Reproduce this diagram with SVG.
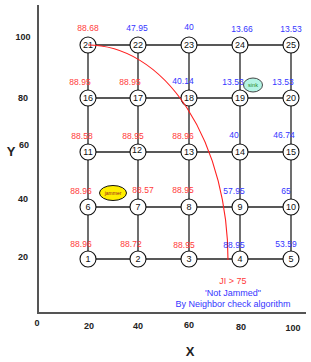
<svg xmlns="http://www.w3.org/2000/svg" width="311" height="362" viewBox="0 0 311 362">
<style>
text{font-family:"Liberation Sans",Arial,sans-serif}
.edge{stroke:#222;stroke-width:1.3;fill:none}
.node circle{fill:#fff;stroke:#111;stroke-width:1.1}
.node text{font-size:9px;text-anchor:middle;fill:#111}
.r{fill:#ff3b3b;font-size:8.5px;text-anchor:middle}
.b{fill:#3535ff;font-size:8.5px;text-anchor:middle}
.tick{font-size:9px;font-weight:bold;text-anchor:middle;fill:#222}
.axis{stroke:#555;stroke-width:2;fill:none}
</style>
<rect width="311" height="362" fill="#fff"/>
<g id="axes">
<path class="axis" d="M38,5 V313 H306"/>
<text class="tick" x="23" y="40">100</text>
<text class="tick" x="23" y="101">80</text>
<text class="tick" x="24" y="148">60</text>
<text class="tick" x="23" y="202">40</text>
<text class="tick" x="23" y="260">20</text>
<text x="11" y="156" font-size="13" font-weight="bold" text-anchor="middle" fill="#222">Y</text>
<text class="tick" x="37" y="326">0</text>
<text class="tick" x="89" y="329">20</text>
<text class="tick" x="138" y="329">40</text>
<text class="tick" x="189" y="328">60</text>
<text class="tick" x="241" y="330">80</text>
<text class="tick" x="293" y="331">100</text>
<text x="190" y="356" font-size="13" font-weight="bold" text-anchor="middle" fill="#222">X</text>
</g>
<g id="connectors">
<path class="edge" d="M88,45 H291 M88,98 H291 M88,152 H291 M88,207 H291 M88,259 H291"/>
<path class="edge" d="M88,45 V259 M138,45 V259 M189,45 V259 M240,45 V259 M291,45 V259"/>
</g>
<g id="nodes">
<g id="n21" class="node"><circle cx="88" cy="45" r="8"/><text x="88" y="48">21</text></g>
<g id="n22" class="node"><circle cx="138" cy="45" r="8"/><text x="138" y="48">22</text></g>
<g id="n23" class="node"><circle cx="189" cy="45" r="8"/><text x="189" y="48">23</text></g>
<g id="n24" class="node"><circle cx="240" cy="45" r="8"/><text x="240" y="48">24</text></g>
<g id="n25" class="node"><circle cx="291" cy="45" r="8"/><text x="291" y="48">25</text></g>
<g id="n16" class="node"><circle cx="88" cy="98" r="8"/><text x="88" y="101">16</text></g>
<g id="n17" class="node"><circle cx="138" cy="98" r="8"/><text x="138" y="101">17</text></g>
<g id="n18" class="node"><circle cx="189" cy="98" r="8"/><text x="189" y="101">18</text></g>
<g id="n19" class="node"><circle cx="240" cy="98" r="8"/><text x="240" y="101">19</text></g>
<g id="n20" class="node"><circle cx="291" cy="98" r="8"/><text x="291" y="101">20</text></g>
<g id="n11" class="node"><circle cx="88" cy="152" r="8"/><text x="88" y="155">11</text></g>
<g id="n12" class="node"><circle cx="138" cy="152" r="8"/><text x="137" y="153">12</text></g>
<g id="n13" class="node"><circle cx="189" cy="152" r="8"/><text x="189" y="155">13</text></g>
<g id="n14" class="node"><circle cx="240" cy="152" r="8"/><text x="240" y="155">14</text></g>
<g id="n15" class="node"><circle cx="291" cy="152" r="8"/><text x="291" y="155">15</text></g>
<g id="n6" class="node"><circle cx="88" cy="207" r="8"/><text x="88" y="210">6</text></g>
<g id="n7" class="node"><circle cx="138" cy="207" r="8"/><text x="138" y="210">7</text></g>
<g id="n8" class="node"><circle cx="189" cy="207" r="8"/><text x="189" y="210">8</text></g>
<g id="n9" class="node"><circle cx="240" cy="207" r="8"/><text x="240" y="210">9</text></g>
<g id="n10" class="node"><circle cx="291" cy="207" r="8"/><text x="291" y="210">10</text></g>
<g id="n1" class="node"><circle cx="88" cy="259" r="8"/><text x="88" y="262">1</text></g>
<g id="n2" class="node"><circle cx="138" cy="259" r="8"/><text x="138" y="262">2</text></g>
<g id="n3" class="node"><circle cx="189" cy="259" r="8"/><text x="189" y="262">3</text></g>
<g id="n4" class="node"><circle cx="240" cy="259" r="8"/><text x="240" y="262">4</text></g>
<g id="n5" class="node"><circle cx="291" cy="259" r="8"/><text x="291" y="262">5</text></g>
</g>
<path id="range" d="M88,45 A140,215 0 0 1 228,260" fill="none" stroke="#ff2020" stroke-width="1.1"/>
<g id="values">
<text class="r" x="88" y="31">88.68</text>
<text class="b" x="137" y="31">47.95</text>
<text class="b" x="189" y="30">40</text>
<text class="b" x="242" y="32">13.66</text>
<text class="b" x="291" y="32">13.53</text>
<text class="r" x="80" y="85">88.95</text>
<text class="r" x="130" y="85">88.95</text>
<text class="b" x="183" y="84">40.14</text>
<text class="b" x="233" y="85">13.53</text>
<text class="b" x="283" y="85">13.53</text>
<text class="r" x="82" y="139">88.58</text>
<text class="r" x="133" y="139">88.95</text>
<text class="r" x="183" y="139">88.96</text>
<text class="b" x="234" y="138">40</text>
<text class="b" x="284" y="138">46.74</text>
<text class="r" x="81" y="194">88.96</text>
<text class="r" x="143" y="193">88.57</text>
<text class="r" x="183" y="193">88.95</text>
<text class="b" x="234" y="194">57.95</text>
<text class="b" x="286" y="194">65</text>
<text class="r" x="81" y="247">88.96</text>
<text class="r" x="131" y="247">88.72</text>
<text class="r" x="184" y="248">88.95</text>
<text class="b" x="234" y="248">88.95</text>
<text class="b" x="286" y="247">53.59</text>
</g>
<g id="sink">
<ellipse cx="253" cy="85" rx="9.5" ry="7" fill="#b4f4e4" stroke="#333" stroke-width="0.9"/>
<text x="253" y="87" font-size="5.5" text-anchor="middle" fill="#228822">sink</text>
</g>
<g id="jammer">
<ellipse cx="113" cy="193" rx="13.5" ry="7.5" fill="#ffee00" stroke="#111" stroke-width="1"/>
<text x="113" y="195" font-size="5" text-anchor="middle" fill="#992222">jammer</text>
</g>
<g id="note">
<text x="233" y="284" font-size="9" text-anchor="middle" fill="#ff3b3b">JI &gt; 75</text>
<text x="233" y="296" font-size="9" text-anchor="middle" fill="#3535ff">'Not Jammed"</text>
<text x="233" y="307" font-size="9" text-anchor="middle" fill="#3535ff">By Neighbor check algorithm</text>
</g>
</svg>
